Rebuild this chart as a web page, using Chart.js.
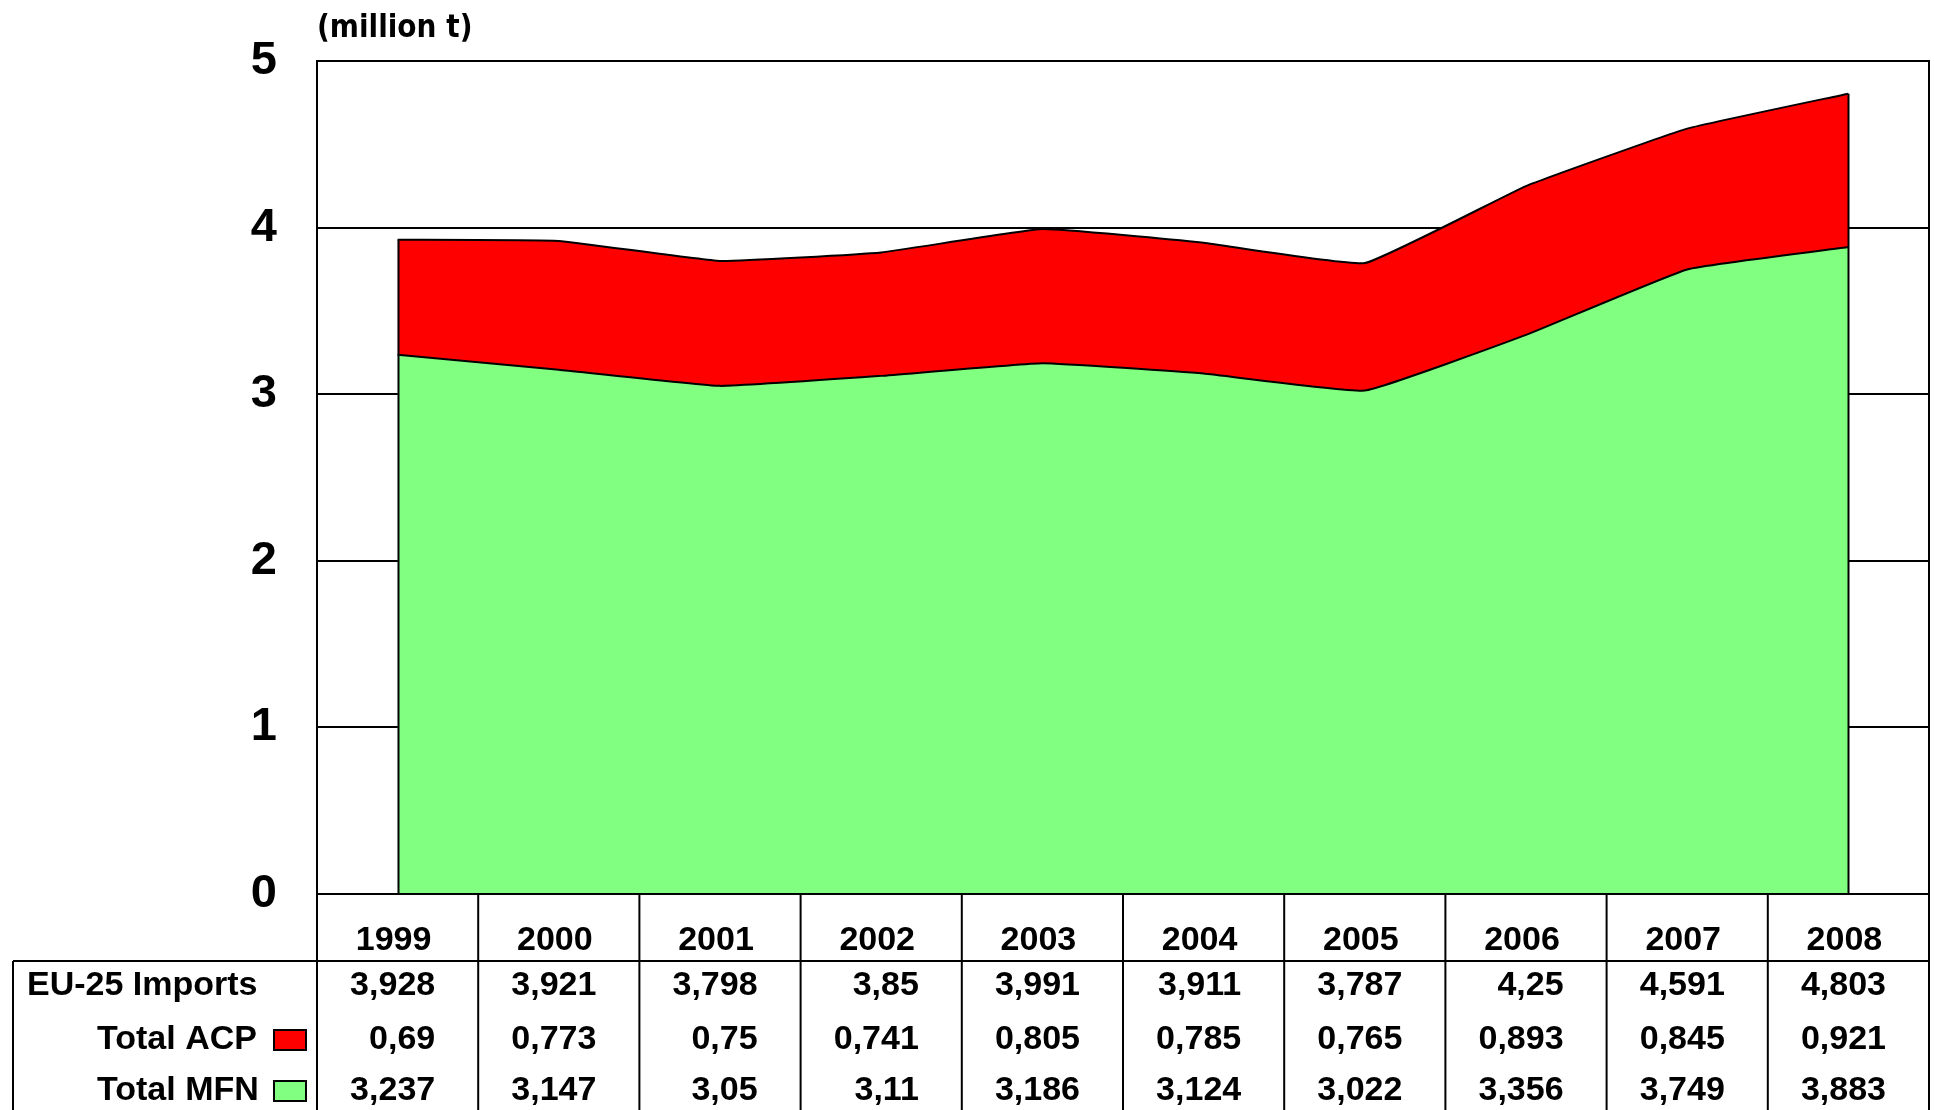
<!DOCTYPE html>
<html>
<head>
<meta charset="utf-8">
<script src="https://cdn.jsdelivr.net/npm/chart.js@4.4.1/dist/chart.umd.min.js"></script>
<style>
  html, body { margin: 0; padding: 0; background: #fff; }
</style>
</head>
<body>
<canvas id="chart" width="1934" height="1110"></canvas>
<script>
// data
const years = ['1999', '2000', '2001', '2002', '2003', '2004', '2005', '2006', '2007', '2008'];
const euImports = [3.928, 3.921, 3.798, 3.85, 3.991, 3.911, 3.787, 4.25, 4.591, 4.803];
const totalACP = [0.69, 0.773, 0.75, 0.741, 0.805, 0.785, 0.765, 0.893, 0.845, 0.921];
const totalMFN = [3.237, 3.147, 3.05, 3.11, 3.186, 3.124, 3.022, 3.356, 3.749, 3.883];
const yTicks = [0, 1, 2, 3, 4, 5];
const unitLabel = '(million t)';

const RED = '#ff0000';
const GREEN = '#80ff80';
const SANS = "'Liberation Sans', Arial, sans-serif";

function fmt(v) {
    return String(v).replace('.', ',');
}

function drawText(ctx, text, x, y, font, align, sy) {
    ctx.save();
    ctx.translate(x, y);
    ctx.scale(1, sy || 1);
    ctx.font = font;
    ctx.textAlign = align;
    ctx.textBaseline = 'middle';
    ctx.fillText(text, 0, 0);
    ctx.restore();
}

const tablePlugin = {
    id: 'dataTable',
    beforeDraw(chart) {
        const ctx = chart.ctx;
        ctx.save();
        ctx.fillStyle = '#fff';
        ctx.fillRect(0, 0, chart.width, chart.height);
        ctx.restore();
    },
    afterDatasetsDraw(chart) {
        // vertical edges at both ends of the stacked area
        const { ctx, scales: { x, y } } = chart;
        ctx.save();
        ctx.strokeStyle = '#000';
        ctx.lineWidth = 2;
        [0, years.length - 1].forEach(i => {
            const px = Math.round(x.getPixelForValue(i)) + 0.5;
            ctx.beginPath();
            ctx.moveTo(px, y.getPixelForValue(totalMFN[i] + totalACP[i]));
            ctx.lineTo(px, y.getPixelForValue(0));
            ctx.stroke();
        });
        ctx.restore();
    },
    afterDraw(chart) {
        const { ctx, chartArea: a, scales: { x } } = chart;
        const step = (a.right - a.left) / years.length;
        const headBottom = a.bottom + 67;
        const rowY = [headBottom + 25, headBottom + 79, headBottom + 130];
        const font = 'bold 34px ' + SANS;
        ctx.save();

        // plot frame
        ctx.strokeStyle = '#000';
        ctx.lineWidth = 2;
        ctx.strokeRect(a.left, a.top, a.right - a.left, a.bottom - a.top);

        // table grid
        ctx.beginPath();
        ctx.moveTo(13, headBottom);
        ctx.lineTo(a.right, headBottom);
        ctx.moveTo(13, headBottom);
        ctx.lineTo(13, chart.height);
        for (let i = 0; i <= years.length; i++) {
            const px = a.left + step * i;
            ctx.moveTo(px, a.bottom);
            ctx.lineTo(px, chart.height);
        }
        ctx.stroke();

        ctx.fillStyle = '#000';

        // year header
        years.forEach((yr, i) => {
            drawText(ctx, yr, x.getPixelForValue(i) - 4, a.bottom + 47, font, 'center');
        });

        // value rows, right aligned in their cells
        [euImports, totalACP, totalMFN].forEach((row, r) => {
            row.forEach((v, i) => {
                drawText(ctx, fmt(v), a.left + step * (i + 1) - 43, rowY[r], font, 'right');
            });
        });

        // row labels
        drawText(ctx, 'EU-25 Imports', 27, rowY[0], font, 'left');
        drawText(ctx, 'Total ACP', 97, rowY[1], font, 'left');
        drawText(ctx, 'Total MFN', 97, rowY[2], font, 'left');

        // legend keys
        [[RED, rowY[1]], [GREEN, rowY[2]]].forEach(([c, cy]) => {
            ctx.fillStyle = c;
            ctx.fillRect(274, cy - 10, 32, 20);
            ctx.strokeRect(274, cy - 10, 32, 20);
        });

        // unit label
        ctx.fillStyle = '#000';
        drawText(ctx, unitLabel, a.left, 29, "bold 28px 'DejaVu Sans', sans-serif", 'left', 1.12);
        ctx.restore();
    }
};

const ctx = document.getElementById('chart').getContext('2d');
const myChart = new Chart(ctx, {
    type: 'line',
    data: {
        labels: years,
        datasets: [{
            label: 'Total MFN',
            data: totalMFN,
            backgroundColor: GREEN,
            borderColor: '#000',
            borderWidth: 2,
            fill: 'origin',
            pointRadius: 0,
            tension: 0.1
        }, {
            label: 'Total ACP',
            data: totalACP,
            backgroundColor: RED,
            borderColor: '#000',
            borderWidth: 2,
            fill: '-1',
            pointRadius: 0,
            tension: 0.1
        }]
    },
    options: {
        responsive: false,
        animation: false,
        devicePixelRatio: 1,
        layout: { padding: { top: 61, right: 5, left: 0, bottom: 0 } },
        plugins: {
            legend: { display: false },
            tooltip: { enabled: false }
        },
        scales: {
            x: {
                offset: true,
                grid: { display: false },
                border: { display: false },
                ticks: { display: false },
                afterFit(scale) { scale.height = 216; }
            },
            y: {
                stacked: true,
                min: 0,
                max: 5,
                afterBuildTicks(scale) { scale.ticks = yTicks.map(v => ({ value: v })); },
                grid: { color: '#000', lineWidth: 2, drawTicks: false },
                border: { display: false },
                ticks: {
                    padding: 40,
                    color: '#000',
                    font: { family: SANS, size: 47, weight: 'bold' }
                },
                afterFit(scale) {
                    scale.width = 317;
                    scale.paddingTop = 0;
                    scale.paddingBottom = 0;
                }
            }
        }
    },
    plugins: [tablePlugin]
});
</script>
</body>
</html>
